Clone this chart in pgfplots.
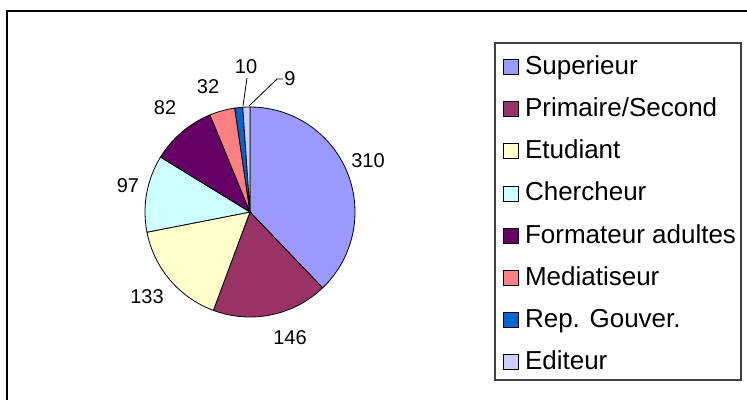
\documentclass[border=0pt]{standalone}
\usepackage{fontspec}
\setmainfont{Liberation Sans}
\usepackage{pgfplots}
\usepackage{pgfplotstable}
\pgfplotsset{compat=1.18}

% Excel 2003 style slice colours
\definecolor{pc0}{HTML}{9999FF}
\definecolor{pc1}{HTML}{993366}
\definecolor{pc2}{HTML}{FFFFCC}
\definecolor{pc3}{HTML}{CCFFFF}
\definecolor{pc4}{HTML}{660066}
\definecolor{pc5}{HTML}{FF8080}
\definecolor{pc6}{HTML}{0066CC}
\definecolor{pc7}{HTML}{CCCCFF}

% value + position of its data label (pixels, y down)
\pgfplotstableread[col sep=comma]{
label,value,lx,ly
Superieur,310,368,161
Primaire/Second,146,290,338
Etudiant,133,147,297
Chercheur,97,128,186
Formateur adultes,82,165,108
Mediatiseur,32,208,87
Rep. Gouver.,10,246,67
Editeur,9,290,79
}\pietable

% total and start/end angle of every slice (clockwise from 12 o'clock)
\def\total{0}
\pgfplotsforeachungrouped \i in {0,...,7}{%
  \pgfplotstablegetelem{\i}{value}\of\pietable
  \pgfmathsetmacro\total{\total+\pgfplotsretval}}
\def\cum{0}
\pgfplotsforeachungrouped \i in {0,...,7}{%
  \pgfplotstablegetelem{\i}{value}\of\pietable
  \pgfmathsetmacro\angS{90-360*(\cum/\total)}
  \pgfmathsetmacro\cum{\cum+\pgfplotsretval}
  \pgfmathsetmacro\angE{90-360*(\cum/\total)}
  \expandafter\xdef\csname sa\i\endcsname{\angS}
  \expandafter\xdef\csname ea\i\endcsname{\angE}}

\pgfplotsset{sq/.style={legend image code/.code={%
  \draw[##1,draw=black,line width=0.8bp] (0bp,-7.5bp) rectangle (15bp,7.5bp);}}}

\begin{document}
\begin{tikzpicture}
\begin{axis}[
    width=747bp, height=400bp, scale only axis,
    xmin=0, xmax=747, ymin=0, ymax=400, y dir=reverse,
    hide axis, clip=false,
    legend cell align=left,
    legend style={draw=none, fill=none, inner sep=0pt,
      at={(0.6734,0.8525)}, anchor=north west,
      font=\fontsize{26bp}{30bp}\selectfont,
      row sep=26.3bp,
      nodes={inner sep=0pt, text height=15bp, text depth=0bp},
      /tikz/every odd column/.append style={column sep=6bp}},
  ]
  % slices
  \pgfplotsinvokeforeach{0,...,7}{
    \fill[fill=pc#1, draw=black, line width=0.8bp] (axis cs:250,212)
      -- ++(\csname sa#1\endcsname:105bp)
      arc[start angle=\csname sa#1\endcsname, end angle=\csname ea#1\endcsname, radius=105bp]
      -- cycle;
  }
  % legend entries and data labels
  \pgfplotsinvokeforeach{0,...,7}{
    \pgfplotstablegetelem{#1}{label}\of\pietable \let\lab\pgfplotsretval
    \pgfplotstablegetelem{#1}{value}\of\pietable \let\val\pgfplotsretval
    \pgfplotstablegetelem{#1}{lx}\of\pietable \let\lx\pgfplotsretval
    \pgfplotstablegetelem{#1}{ly}\of\pietable \let\ly\pgfplotsretval
    \edef\tmp{\noexpand\addlegendimage{sq,fill=pc#1}\noexpand\addlegendentry{\lab}%
      \noexpand\node[font=\noexpand\fontsize{20bp}{24bp}\noexpand\selectfont, inner sep=0pt]
        at (axis cs:\lx,\ly) {\val};}
    \tmp
  }
  % leader lines for the two small slices
  \draw[line width=0.8bp] (axis cs:247,78) -- (axis cs:243,106);
  \draw[line width=0.8bp] (axis cs:283,79) -- (axis cs:277,79) -- (axis cs:249,106);
  % legend box and outer frame
  \draw[line width=2bp, black!75] (axis cs:495,43) rectangle (axis cs:741,380);
  \draw[line width=2.5bp] (axis cs:7,400) -- (axis cs:7,11) -- (axis cs:747,11);
\end{axis}
\pgfresetboundingbox
\useasboundingbox (current axis.south west) rectangle (current axis.north east);
\end{tikzpicture}
\end{document}
